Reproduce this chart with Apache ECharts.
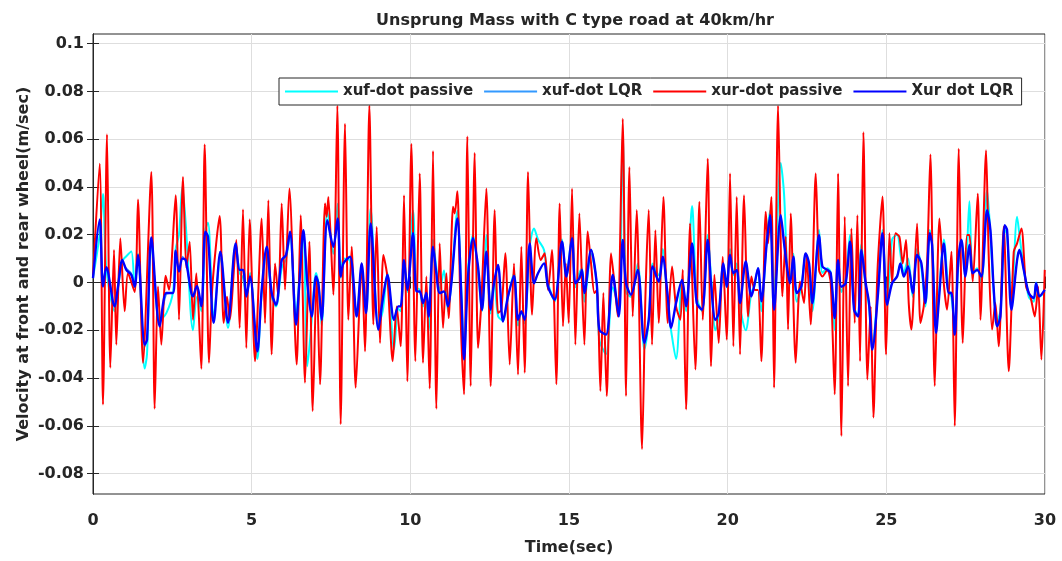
<!DOCTYPE html>
<html><head><meta charset="utf-8">
<script src="https://cdn.jsdelivr.net/npm/echarts@6/dist/echarts.min.js"></script>
<style>html,body{margin:0;padding:0;background:#fff}#c{width:1062px;height:561px}</style>
</head><body><div id="c"></div>
<script>
const titleText = 'Unsprung Mass with C type road at 40km/hr';
const xName = 'Time(sec)';
const yName = 'Velocity at front and rear wheel(m/sec)';
const seriesNames = ['xuf-dot passive', 'xuf-dot LQR', 'xur-dot passive', 'Xur dot LQR'];
const xTicks = [0, 5, 10, 15, 20, 25, 30];
const yTicks = [-0.08, -0.06, -0.04, -0.02, 0, 0.02, 0.04, 0.06, 0.08, 0.1];

// xur-dot passive (red)
const redT = [0,0.21,0.315,0.441,0.546,0.662,0.735,0.861,0.998,1.103,1.313,1.418,1.576,1.838,1.943,2.048,2.153,2.29,2.395,2.605,2.71,2.836,2.941,3.046,3.151,3.256,3.414,3.519,3.655,3.761,3.992,4.118,4.223,4.307,4.517,4.622,4.727,4.832,4.937,
5.106,5.316,5.421,5.526,5.631,5.736,5.841,5.946,6.051,6.188,6.419,6.545,6.681,6.818,6.923,7.049,7.154,7.311,7.364,7.417,7.574,7.70,7.805,7.942,8.047,8.152,8.278,8.467,8.572,8.709,8.835,8.94,9.045,9.15,9.276,9.444,9.57,9.696,9.801,9.906,
10.032,10.158,10.295,10.40,10.505,10.61,10.715,10.82,10.925,11.03,11.135,11.209,11.345,11.398,11.482,11.587,11.692,11.797,11.902,12.028,12.133,12.238,12.395,12.532,12.658,12.763,12.868,12.994,13.131,13.267,13.393,13.498,13.604,13.709,13.835,13.971,14.108,14.234,14.339,14.465,14.601,14.706,14.811,14.9,
14.991,15.096,15.201,15.327,15.485,15.59,15.695,15.80,15.884,15.989,16.083,16.189,16.325,16.43,16.535,16.693,16.798,16.903,17.008,17.134,17.302,17.407,17.512,17.617,17.722,17.827,17.974,18.111,18.247,18.373,18.51,18.584,18.689,18.815,18.983,19.109,19.214,19.371,19.476,19.581,19.718,19.844,
19.97,20.075,20.18,20.285,20.39,20.516,20.642,20.747,20.852,20.957,21.062,21.199,21.273,21.378,21.462,21.588,21.724,21.829,21.903,21.987,22.144,22.281,22.407,22.491,22.617,22.775,22.88,22.985,23.142,23.248,23.373,23.479,23.584,23.689,23.794,23.899,24.004,24.088,24.172,24.277,24.403,24.508,24.592,24.718,24.88,
24.992,25.097,25.181,25.286,25.412,25.517,25.622,25.706,25.79,25.969,26.074,26.179,26.284,26.389,26.526,26.673,26.81,26.914,27.051,27.156,27.282,27.408,27.545,27.618,27.723,27.881,27.965,28.143,28.227,28.332,28.437,28.542,28.7,28.858,29.015,29.12,29.257,29.404,29.54,29.677,29.782,29.887,29.992];
const redV = [0.0025,0.0497,-0.051,0.062,-0.0357,0.0136,-0.026,0.0185,-0.012,0.004,-0.004,0.0347,-0.0336,0.0463,-0.0528,-0.0017,-0.026,0.0028,-0.003,0.0365,-0.0156,0.0442,0.006,0.0171,-0.0156,0.0039,-0.0361,0.0578,-0.0336,-0.0017,0.0278,-0.0169,-0.006,-0.0156,0.0178,-0.019,0.0306,-0.0274,0.0264,
-0.0329,0.0268,-0.017,0.0344,-0.0301,0.008,-0.006,0.0331,-0.003,0.0393,-0.0343,0.0282,-0.0419,0.0171,-0.0538,0.0025,-0.0426,0.0331,0.0275,0.0358,-0.0051,0.074,-0.0593,0.0664,-0.0156,0.015,-0.044,0.008,-0.0288,0.074,-0.0176,0.0233,-0.0253,0.0115,0.0025,-0.0329,-0.01,-0.0267,0.0365,-0.0413,
0.058,-0.0329,0.0456,-0.0336,0.0025,-0.0444,0.055,-0.0528,0.0164,-0.019,0.0039,-0.0149,0.0317,0.0289,0.0382,-0.0156,-0.0468,0.0611,-0.0433,0.0542,-0.0274,-0.0079,0.0393,-0.0433,0.0303,-0.0128,-0.0114,0.0122,-0.0343,0.008,-0.0385,0.015,-0.0378,0.0463,-0.0135,0.0185,0.0094,0.0122,-0.0031,0.0136,-0.0426,0.0331,-0.0183,0.008,
-0.0169,0.0393,-0.026,0.0289,-0.026,0.0213,0.008,-0.0044,-0.0031,-0.0454,-0.0044,-0.0475,0.0122,0,-0.0142,0.0685,-0.0475,0.0483,-0.0142,0.0303,-0.0697,-0.0065,0.0303,-0.026,0.0219,-0.0169,0.0358,-0.0169,0.0067,-0.01,-0.0156,0.0053,-0.0531,0.0247,-0.0364,0.0338,-0.0156,0.0518,-0.035,0.0032,-0.0253,0.0108,
-0.0239,0.0456,-0.0267,0.0358,-0.0301,0.0365,-0.0142,0.0025,-0.0031,-0.0031,-0.0329,0.0296,0.0164,0.0358,-0.044,0.074,-0.0058,0.0192,-0.0197,0.0289,-0.0336,0.0004,-0.0086,0.0108,-0.0176,0.0456,0.0053,0.0025,0.0053,-0.0003,-0.0468,0.0456,-0.0642,0.0275,-0.0433,0.0226,-0.0169,0.0282,-0.0329,0.0629,-0.0406,-0.01,-0.0565,0.0039,0.036,
-0.0301,0.0206,-0.0003,0.0206,0.0192,0.008,0.0178,-0.0086,-0.0197,0.0247,-0.0169,-0.01,0.008,0.0536,-0.0433,0.0268,-0.0003,-0.0114,0.0129,-0.06,0.056,-0.0253,0.0199,0.0199,0.0004,0.0372,-0.0156,0.0553,0.0108,-0.0197,-0.0086,-0.0267,0.0233,-0.0371,0.0129,0.0164,0.0226,-0.0017,-0.0058,-0.0142,-0.0017,-0.0322,0.0053];

// shared time samples for the other three traces
const lqrT = [0,0.21,0.315,0.42,0.683,0.788,0.924,1.05,1.208,1.313,1.418,1.628,1.702,1.838,2.101,2.311,2.521,2.605,2.71,2.815,2.92,3.151,3.277,3.414,3.54,3.624,3.803,4.013,4.254,4.496,4.622,4.727,4.832,4.95,
5.179,5.316,5.473,5.631,5.767,5.946,6.082,6.209,6.398,6.503,6.629,6.755,6.891,7.028,7.101,7.206,7.385,7.574,7.71,7.805,7.889,8.099,8.309,8.467,8.604,8.75,8.992,9.129,9.276,9.486,9.622,9.696,9.801,9.906,
10.085,10.19,10.295,10.40,10.505,10.578,10.715,10.82,10.925,11.061,11.187,11.293,11.482,11.608,11.692,11.818,11.975,12.133,12.259,12.395,12.532,12.637,12.763,12.921,13.078,13.267,13.393,13.498,13.604,13.761,13.898,14.024,14.213,14.339,14.549,14.78,14.916,
15.096,15.201,15.327,15.411,15.485,15.695,15.873,15.957,16.168,16.378,16.567,16.693,16.798,16.955,17.165,17.375,17.512,17.638,17.827,17.953,18.111,18.216,18.373,18.563,18.689,18.878,19.025,19.193,19.371,19.476,19.613,19.718,19.865,
19.97,20.075,20.18,20.285,20.39,20.569,20.747,20.831,20.957,21.062,21.23,21.336,21.462,21.672,21.777,21.882,21.966,22.071,22.176,22.323,22.46,22.565,22.67,22.88,22.985,23.142,23.248,23.373,23.479,23.584,23.72,23.857,23.983,24.109,24.214,24.35,24.455,24.56,24.739,24.876,
25.024,25.181,25.339,25.444,25.549,25.685,25.832,25.969,26.105,26.231,26.368,26.442,26.568,26.673,26.81,26.967,27.051,27.156,27.261,27.366,27.492,27.618,27.723,27.86,27.996,28.175,28.28,28.385,28.49,28.595,28.732,28.805,28.942,29.12,29.194,29.33,29.488,29.646,29.719,29.824,29.992];

// Xur dot LQR (blue)
const xurLqrV = [0.0018,0.0264,-0.0017,0.0064,-0.01,-0.0017,0.0094,0.0053,0.0032,-0.0017,0.0115,-0.026,-0.0239,0.0189,-0.0183,-0.0044,-0.0044,0.0133,0.0046,0.0101,0.0094,-0.0058,-0.0014,-0.01,0.0213,0.0192,-0.0169,0.0129,-0.0169,0.0164,0.0053,0.0053,-0.0058,0.0025,
-0.0288,-0.0031,0.015,-0.0044,-0.0093,0.0094,0.0115,0.0213,-0.0176,-0.0003,0.0219,-0.0003,-0.0142,0.0025,-0.0003,-0.0156,0.0261,0.015,0.0268,0.0025,0.008,0.0108,-0.0142,0.008,-0.0128,0.0247,-0.0197,-0.0072,0.0032,-0.0156,-0.01,-0.01,0.0094,-0.0031,
0.0206,-0.0037,-0.0037,-0.0086,-0.0044,-0.0142,0.015,0.0039,-0.0044,-0.0037,-0.01,-0.0003,0.0268,-0.0058,-0.0322,0.0025,0.0185,0.0067,-0.0114,0.0129,-0.0114,-0.0003,0.0074,-0.0163,-0.0058,0.0028,-0.0156,-0.0121,-0.0156,0.0164,-0.0003,0.0039,0.008,-0.0017,-0.0072,0.0171,0.0025,
0.0185,-0.0003,0.0018,0.0053,-0.0044,0.0136,-0.0003,-0.0197,-0.0218,0.0032,-0.0142,0.0178,-0.0003,-0.0051,0.0053,-0.0253,-0.0156,0.0067,0.0004,0.0108,-0.0058,-0.019,-0.0086,0.0011,-0.01,0.0164,-0.0086,-0.0114,0.0178,-0.0003,-0.0156,-0.0128,0.008,
-0.0017,0.0115,0.0039,0.0053,-0.0086,0.0088,-0.0058,-0.0017,0.006,-0.0079,0.0164,0.0282,-0.0114,0.0282,0.0164,0.0053,-0.0003,0.0108,-0.0044,-0.0017,0.0122,0.008,-0.0086,0.0199,0.0067,0.0053,0.0039,-0.0149,0.0094,-0.0017,-0.0003,0.0171,-0.0114,-0.0142,0.0136,-0.0003,-0.0086,-0.0281,-0.0044,0.0206,
-0.0093,-0.0003,0.0025,0.008,0.0025,0.0067,-0.0044,0.0115,0.008,-0.0086,0.0206,0.0157,-0.0211,-0.0044,0.0164,-0.0044,-0.0044,-0.0218,0.008,0.0178,0.0025,0.0157,0.0039,0.0053,0.0025,0.0303,0.0219,-0.0031,-0.0183,-0.0142,0.024,0.0219,-0.0114,0.0094,0.0136,0.0053,-0.0044,-0.0065,-0.0003,-0.0058,-0.0031];

// xuf-dot passive (cyan)
const xufPassiveV = [0.002,0.02,0.037,0.006,-0.012,-0.002,0.009,0.011,0.013,-0.002,0.012,-0.036,-0.03,0.016,-0.016,-0.0128,-0.004,0.014,0.02,0.04,0.025,-0.02,-0.006,-0.012,0.022,0.025,-0.014,0.01,-0.019,0.016,0.004,0.002,-0.006,0.004,
-0.032,-0.004,0.013,-0.006,-0.01,0.006,0.01,0.02,-0.014,0.002,0.022,-0.035,-0.016,0.004,0,-0.018,0.03,0.012,0.033,0.002,0.01,0.009,-0.014,0.006,-0.013,0.031,-0.018,-0.012,0.004,-0.028,-0.011,-0.012,0.008,-0.004,
0.03,-0.002,-0.003,-0.01,-0.005,-0.02,0.018,0.006,-0.003,0.005,-0.012,0,0.03,-0.004,-0.03,0.006,0.02,0.004,-0.012,0.02,-0.013,0.002,-0.014,-0.016,-0.006,0.004,-0.018,-0.012,-0.017,0.015,0.0226,0.018,0.0136,0,-0.008,0.018,0.002,
0.02,-0.002,0.004,0.006,-0.008,0.012,0,-0.024,-0.03,-0.002,-0.01,0.061,-0.004,-0.006,0.008,-0.028,-0.016,0.008,0.003,0.014,-0.01,-0.02,-0.032,0,-0.012,0.032,-0.006,-0.012,0.02,0.002,-0.02,-0.014,0.006,
-0.002,0.014,0.003,0.008,-0.01,-0.02,-0.004,-0.002,0.006,-0.012,0.018,0.03,-0.004,0.05,0.037,0.004,0,0.012,-0.008,-0.002,0.012,0.006,-0.012,0.022,0.004,0.006,0.004,-0.02,0.008,-0.004,0.002,0.02,-0.01,-0.014,0.016,-0.002,-0.01,-0.026,-0.002,0.022,
-0.01,0.018,0.02,0.012,0.004,0.01,-0.006,0.014,0.006,-0.01,0.022,0.016,-0.018,-0.002,0.018,-0.004,-0.006,-0.02,0.006,0.018,0.004,0.034,0.004,0.006,0,0.0386,0.02,-0.004,-0.016,-0.012,0.022,0.02,-0.008,0.0275,0.02,0.006,-0.006,-0.008,0,-0.006,-0.004];

// xuf-dot LQR (light blue)
const xufLqrV = [0.0018,0.025,0,0.006,-0.01,-0.002,0.009,0.006,0.004,-0.001,0.011,-0.027,-0.024,0.018,-0.018,-0.005,-0.004,0.013,0.005,0.011,0.009,-0.006,-0.001,-0.01,0.021,0.019,-0.017,0.013,-0.017,0.016,0.005,0.005,-0.006,0.003,
-0.029,-0.003,0.015,-0.004,-0.009,0.009,0.012,0.021,-0.018,0,0.022,-0.001,-0.014,0.003,0,-0.016,0.026,0.015,0.027,0.003,0.008,0.011,-0.014,0.008,-0.013,0.025,-0.02,-0.007,0.003,-0.016,-0.01,-0.01,0.009,-0.003,
0.021,-0.004,-0.004,-0.009,-0.004,-0.014,0.015,0.004,-0.004,-0.004,-0.01,0,0.027,-0.006,-0.032,0.003,0.018,0.007,-0.011,0.013,-0.011,0,0.007,-0.016,-0.006,0.003,-0.016,-0.012,-0.016,0.016,0,0.004,0.008,-0.002,-0.007,0.017,0.003,
0.018,0,0.002,0.005,-0.004,0.014,0,-0.02,-0.022,0.003,-0.014,0.018,0,-0.005,0.005,-0.025,-0.016,0.007,0,0.011,-0.006,-0.019,-0.009,0.001,-0.01,0.016,-0.009,-0.011,0.018,0,-0.016,-0.013,0.008,
-0.002,0.012,0.004,0.005,-0.009,0.009,-0.006,-0.002,0.006,-0.008,0.016,0.028,-0.011,0.028,0.016,0.005,0,0.011,-0.004,-0.002,0.012,0.008,-0.009,0.02,0.007,0.005,0.004,-0.015,0.009,-0.002,0,0.017,-0.011,-0.014,0.014,0,-0.009,-0.028,-0.004,0.02,
-0.009,0,0.003,0.008,0.003,0.007,-0.004,0.012,0.008,-0.009,0.02,0.016,-0.021,-0.004,0.016,-0.004,-0.004,-0.022,0.008,0.018,0.003,0.016,0.004,0.005,0.003,0.03,0.022,-0.003,-0.018,-0.014,0.024,0.022,-0.011,0.009,0.014,0.005,-0.004,-0.007,0,-0.006,-0.003];

const FONT = 'DejaVu Sans';
const ink = '#262626';
const pair = (t, v) => t.map((x, i) => [x, v[i]]);
const txt = (size) => ({fontFamily: FONT, fontSize: size, fontWeight: 'bold', color: ink});

const chart = echarts.init(document.getElementById('c'), null, {renderer: 'canvas'});
const tickStyle = {inside: true, length: 6, lineStyle: {color: ink, width: 1}};
const option = {
  animation: false,
  backgroundColor: '#fff',
  title: {
    text: titleText, left: 570, top: 8, textAlign: 'center',
    textStyle: txt(16)
  },
  grid: {left: 93, right: 17, top: 34, bottom: 66, show: true, borderColor: ink, borderWidth: 1, backgroundColor: '#fff'},
  legend: {
    data: seriesNames, left: 279, top: 78, itemWidth: 53, itemHeight: 2, itemGap: 11,
    icon: 'path://M0 0H53V2H0Z',
    padding: [6, 8, 6, 6], borderColor: ink, borderWidth: 1, backgroundColor: '#fff',
    textStyle: txt(15)
  },
  xAxis: [{
    type: 'value', min: 0, max: 30, interval: 5, position: 'bottom',
    name: xName, nameLocation: 'middle', nameGap: 46,
    nameTextStyle: txt(16),
    axisLine: {show: true, lineStyle: {color: ink}},
    axisTick: tickStyle,
    axisLabel: Object.assign({customValues: xTicks, margin: 19}, txt(16)),
    splitLine: {show: true, lineStyle: {color: '#dedede', width: 1}}
  }, {
    type: 'value', min: 0, max: 30, interval: 5, position: 'top',
    axisLine: {show: true, lineStyle: {color: ink}}, axisTick: tickStyle,
    axisLabel: {show: false}, splitLine: {show: false}
  }],
  yAxis: [{
    type: 'value', min: -0.0885, max: 0.104,
    name: yName, nameLocation: 'middle', nameGap: 61, nameMoveOverlap: false,
    nameTextStyle: txt(16),
    axisLine: {show: true, lineStyle: {color: ink}},
    axisTick: Object.assign({customValues: yTicks}, tickStyle),
    axisLabel: Object.assign({customValues: yTicks, formatter: v => String(v), margin: 9}, txt(16)),
    splitLine: {show: true, lineStyle: {color: '#dedede', width: 1}}
  }, {
    type: 'value', min: -0.0885, max: 0.104, position: 'right',
    axisLine: {show: true, lineStyle: {color: ink}},
    axisTick: Object.assign({customValues: yTicks}, tickStyle),
    axisLabel: {show: false}, splitLine: {show: false}
  }],
  series: [
    {name: seriesNames[0], type: 'line', data: pair(lqrT, xufPassiveV), symbol: 'none', smooth: 0.3, lineStyle: {color: '#00FFFF', width: 2}, itemStyle: {color: '#00FFFF'}},
    {name: seriesNames[1], type: 'line', data: pair(lqrT, xufLqrV), symbol: 'none', smooth: 0.3, lineStyle: {color: '#3399FF', width: 1.2}, itemStyle: {color: '#3399FF'}},
    {name: seriesNames[2], type: 'line', data: pair(redT, redV), symbol: 'none', smooth: 0.25, lineStyle: {color: '#FF0000', width: 2}, itemStyle: {color: '#FF0000'}},
    {name: seriesNames[3], type: 'line', data: pair(lqrT, xurLqrV), symbol: 'none', smooth: 0.3, lineStyle: {color: '#0000FF', width: 2.4}, itemStyle: {color: '#0000FF'}}
  ]
};
chart.setOption(option);
</script></body></html>
